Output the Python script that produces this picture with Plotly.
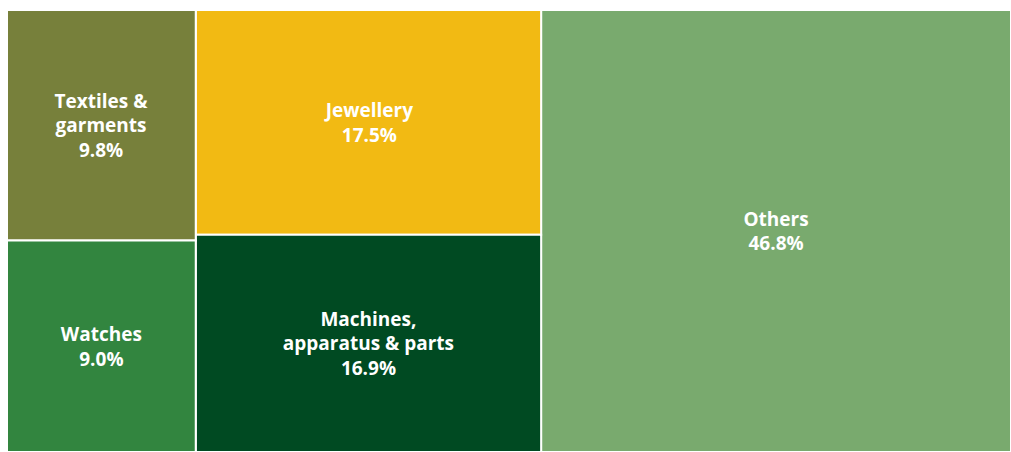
import plotly.graph_objects as go

labels = ['Others', 'Jewellery', 'Machines,<br>apparatus & parts', 'Textiles &<br>garments', 'Watches']
shares = [46.8, 17.5, 16.9, 9.8, 9.0]
colors = ['#79AA6E', '#F2BA13', '#004A22', '#77803B', '#32853F']

fig = go.Figure(go.Treemap(
    labels=labels,
    parents=[''] * len(labels),
    values=shares,
    sort=False,
    texttemplate='<b>%{label}<br>%{value:.1f}%</b>',
    textposition='middle center',
    textfont=dict(family='Open Sans', size=19, color='white'),
    marker=dict(colors=colors, line=dict(color='white', width=2), pad=dict(t=0, l=0, r=0, b=0)),
    tiling=dict(packing='squarify', squarifyratio=1, flip='x', pad=0),
    pathbar=dict(visible=False),
    hoverinfo='label+value',
))

fig.update_layout(
    width=1011, height=452,
    margin=dict(l=7, r=0, t=10, b=0),
    paper_bgcolor='white',
)
# browser default body margin would shift the figure by 8px
fig.write_html('out.html', config={'displayModeBar': False},
               post_script="document.body.style.margin='0';")
